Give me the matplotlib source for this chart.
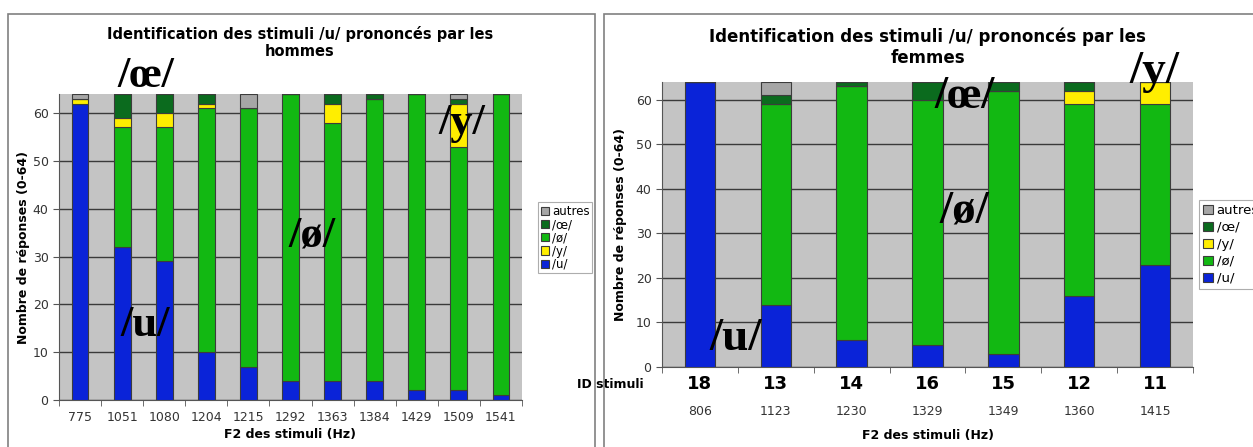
import matplotlib.pyplot as plt
import matplotlib.patches as mpatches
import matplotlib.transforms as mtransforms
import numpy as np

# hommes
f2_h = ['775', '1051', '1080', '1204', '1215', '1292', '1363', '1384', '1429', '1509', '1541']
u_h = [62, 32, 29, 10, 7, 4, 4, 4, 2, 2, 1]
oe2_h = [0, 25, 28, 51, 54, 60, 54, 59, 62, 51, 63]   # /ø/
y_h = [1, 2, 3, 1, 0, 0, 4, 0, 0, 9, 0]
oe_h = [0, 5, 4, 2, 0, 0, 2, 1, 0, 1, 0]             # /œ/
autres_h = [1, 0, 0, 0, 3, 0, 0, 0, 0, 1, 0]

# femmes
id_f = ['18', '13', '14', '16', '15', '12', '11']
f2_f = ['806', '1123', '1230', '1329', '1349', '1360', '1415']
u_f = [64, 14, 6, 5, 3, 16, 23]
oe2_f = [0, 45, 57, 55, 59, 43, 36]
y_f = [0, 0, 0, 0, 0, 3, 5]
oe_f = [0, 2, 1, 4, 2, 2, 0]
autres_f = [0, 3, 0, 0, 0, 0, 0]

c_u = '#0a23d8'
c_o = '#12b812'
c_y = '#ffee00'
c_oe = '#0b6b1e'
c_aut = '#a6a6a6'
bg = '#c4c4c4'
edge = '#3c3c3c'

W, H = 1253, 447
fig = plt.figure(figsize=(W / 100, H / 100), dpi=100)
pix = mtransforms.IdentityTransform()

# panel frames
fig.patches.append(mpatches.Rectangle((8 / W, -0.01), 587 / W, 1 - 14 / H + 0.01,
                                      transform=fig.transFigure, fill=False,
                                      edgecolor='#808080', lw=1.2))
fig.patches.append(mpatches.Rectangle((604 / W, -0.01), 0.7, 1 - 14 / H + 0.01,
                                      transform=fig.transFigure, fill=False,
                                      edgecolor='#808080', lw=1.2))


def stacked(ax, series, colors):
    x = np.arange(len(series[0][1]))
    bottom = np.zeros(len(x))
    handles = {}
    for (name, vals), col in zip(series, colors):
        b = ax.bar(x, vals, 0.4, bottom=bottom, color=col, edgecolor=edge,
                   linewidth=0.8, zorder=3)
        handles[name] = b
        bottom += np.array(vals)
    return x, handles


def style(ax, n):
    ax.set_facecolor(bg)
    ax.set_ylim(0, 64)
    ax.set_xlim(-0.5, n - 0.5)
    ax.set_yticks(range(0, 61, 10))
    ax.yaxis.grid(True, color='#3a3a3a', lw=1.0, zorder=1)
    for s in ['top', 'right']:
        ax.spines[s].set_visible(False)
    ax.spines['left'].set_color('#555555')
    ax.spines['bottom'].set_color('#555555')
    ax.set_xticks(np.arange(-0.5, n, 1.0), minor=True)
    ax.tick_params(axis='x', which='minor', length=4, color='#555555')
    ax.tick_params(axis='x', which='major', length=0)
    ax.tick_params(axis='y', length=4, color='#555555', labelsize=9, labelcolor='#333333')


big = dict(family='Liberation Serif', fontweight='bold', color='black',
           ha='center', va='center', zorder=6, transform=pix)


def label(ax, x, y, s, size=32):
    # position given in pixels from the top-left corner of the picture
    ax.text(x, H - y, s, fontsize=size, **big)


# ---------- hommes ----------
ax1 = fig.add_axes([59 / W, 1 - 400 / H, 463 / W, 306 / H])
ser_h = [('/u/', u_h), ('/ø/', oe2_h), ('/y/', y_h), ('/œ/', oe_h), ('autres', autres_h)]
x1, h1 = stacked(ax1, ser_h, [c_u, c_o, c_y, c_oe, c_aut])
style(ax1, len(f2_h))
ax1.set_xticks(x1)
ax1.set_xticklabels(f2_h, fontsize=9, color='#333333')
ax1.tick_params(axis='x', which='major', pad=8)
ax1.set_xlabel('F2 des stimuli (Hz)', fontsize=9, fontweight='bold', labelpad=3)
ax1.set_ylabel('Nombre de réponses (0-64)', fontsize=9, fontweight='bold', labelpad=2)
ax1.set_title('Identification des stimuli /u/ prononcés par les\nhommes',
              fontsize=10.5, fontweight='bold', pad=27, x=0.52)
leg1 = ax1.legend([h1['autres'], h1['/œ/'], h1['/ø/'], h1['/y/'], h1['/u/']],
                  ['autres', '/œ/', '/ø/', '/y/', '/u/'],
                  loc='center left', bbox_to_anchor=(1.035, 0.53), fontsize=8.5,
                  frameon=True, fancybox=False, edgecolor='#999999', handlelength=0.7,
                  handleheight=0.7, handletextpad=0.3, labelspacing=0.02, borderpad=0.2,
                  borderaxespad=0)
leg1.get_frame().set_linewidth(0.8)
label(ax1, 146, 76, '/œ/')
label(ax1, 145, 325, '/u/')
label(ax1, 312, 235, '/ø/')
label(ax1, 462, 123, '/y/')

# ---------- femmes ----------
ax2 = fig.add_axes([662 / W, 1 - 367 / H, 531 / W, 285 / H])
ser_f = [('/u/', u_f), ('/ø/', oe2_f), ('/y/', y_f), ('/œ/', oe_f), ('autres', autres_f)]
x2, h2 = stacked(ax2, ser_f, [c_u, c_o, c_y, c_oe, c_aut])
style(ax2, len(id_f))
ax2.set_xticks(x2)
ax2.set_xticklabels(id_f, fontsize=13, fontweight='bold')
ax2.tick_params(axis='x', which='major', pad=6)
for xi, lab in zip(x2, f2_f):
    ax2.text(xi, -0.155, lab, transform=ax2.get_xaxis_transform(), ha='center',
             va='center', fontsize=9, color='#333333')
ax2.text(-0.035, -0.06, 'ID stimuli', transform=ax2.transAxes, ha='right', va='center',
         fontsize=9, fontweight='bold')
ax2.set_xlabel('F2 des stimuli (Hz)', fontsize=9, fontweight='bold', labelpad=26)
ax2.set_ylabel('Nombre de réponses (0-64)', fontsize=9, fontweight='bold', labelpad=6)
ax2.set_title('Identification des stimuli /u/ prononcés par les\nfemmes',
              fontsize=12, fontweight='bold', pad=14, x=0.5)
leg2 = ax2.legend([h2['autres'], h2['/œ/'], h2['/y/'], h2['/ø/'], h2['/u/']],
                  ['autres', '/œ/', '/y/', '/ø/', '/u/'],
                  loc='center left', bbox_to_anchor=(1.012, 0.43), fontsize=9.5,
                  frameon=True, fancybox=False, edgecolor='#999999', handlelength=0.7,
                  handleheight=0.7, handletextpad=0.3, labelspacing=0.3, borderpad=0.3,
                  borderaxespad=0)
leg2.get_frame().set_linewidth(0.8)
label(ax2, 736, 339, '/u/', 34)
label(ax2, 965, 97, '/œ/', 34)
label(ax2, 964, 212, '/ø/', 34)
label(ax2, 1154, 72, '/y/', 34)

plt.savefig('out.png', dpi=100)
